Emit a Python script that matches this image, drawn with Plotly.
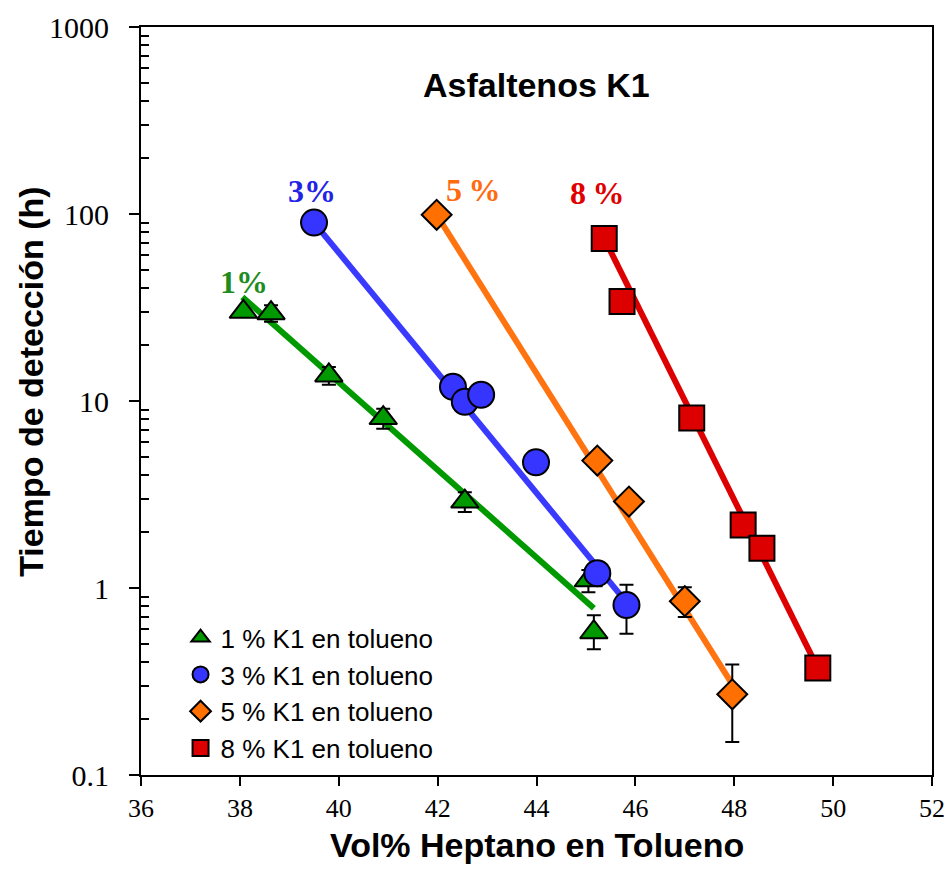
import math
import plotly.graph_objects as go

# Measured detection times (h) vs. heptane volume fraction in toluene
x_1 = [38.07, 38.63, 39.80, 40.90, 42.55, 45.05, 45.16]
y_1 = [30.0, 29.5, 13.7, 8.1, 2.9, 1.1, 0.58]
e1_plus = [0.0, 3.0, 1.5, 1.0, 0.35, 0.15, 0.135]
e1_minus = [0.0, 3.0, 1.5, 1.0, 0.35, 0.15, 0.11]

x_3 = [39.50, 42.31, 42.55, 42.88, 43.99, 45.23, 45.82]
y_3 = [90.0, 11.9, 9.9, 10.8, 4.7, 1.2, 0.81]
e3_plus = [0, 0, 0, 0, 0, 0.05, 0.23]
e3_minus = [0, 0, 0, 0, 0, 0.05, 0.24]

x_5 = [41.98, 45.23, 45.87, 47.00, 47.96]
y_5 = [99.0, 4.8, 2.9, 0.85, 0.27]
e5_plus = [0, 0.45, 0.1, 0.16, 0.12]
e5_minus = [0, 0.45, 0.1, 0.15, 0.12]

x_8 = [45.37, 45.73, 47.14, 48.18, 48.56, 49.69]
y_8 = [74.0, 34.0, 8.1, 2.17, 1.63, 0.373]
e8_plus = [0, 0, 0, 0, 0, 0.03]
e8_minus = [0, 0, 0, 0, 0, 0.03]

# Log-linear fit lines (end points)
fit_1_x, fit_1_y = [38.05, 45.16], [36.0, 0.78]
fit_3_x, fit_3_y = [39.50, 45.85], [90.0, 0.82]
fit_5_x, fit_5_y = [41.98, 47.98], [99.0, 0.30]
fit_8_x, fit_8_y = [45.37, 49.69], [74.0, 0.373]

series_names = ["1 % K1 en tolueno", "3 % K1 en tolueno",
                "5 % K1 en tolueno", "8 % K1 en tolueno"]
series_tags = ["1%", "3%", "5\u2009%", "8\u2009%"]
tag_x = [38.08, 39.46, 42.71, 45.22]
tag_y = [43.3, 132.0, 134.0, 129.0]

x_ticks = [36, 38, 40, 42, 44, 46, 48, 50, 52]
y_ticks = [0.1, 1, 10, 100, 1000]
y_tick_text = ["0.1", "1", "10", "100", "1000"]
y_minor = [m * 10 ** d for d in range(-1, 3) for m in range(2, 10)]

line_colors = ["#009a00", "#3a3aff", "#ff7410", "#dd0000"]
marker_colors = ["#009a00", "#3535ff", "#ff7000", "#dd0000"]
tag_colors = ["#1e8c1e", "#2323e6", "#ff6a10", "#e00000"]
symbols = ["triangle-up", "circle", "diamond", "square"]
sizes = [24, 26, 23, 25]

points = [(x_1, y_1, e1_plus, e1_minus), (x_3, y_3, e3_plus, e3_minus),
          (x_5, y_5, e5_plus, e5_minus), (x_8, y_8, e8_plus, e8_minus)]
fits = [(fit_1_x, fit_1_y), (fit_3_x, fit_3_y),
        (fit_5_x, fit_5_y), (fit_8_x, fit_8_y)]

fig = go.Figure()

for i, (fx, fy) in enumerate(fits):
    fig.add_trace(go.Scatter(
        x=fx, y=fy, mode="lines", showlegend=False, hoverinfo="skip",
        line=dict(color=line_colors[i], width=6)))

for i, (px, py, ep, em) in enumerate(points):
    fig.add_trace(go.Scatter(
        x=px, y=py, mode="markers", name=series_names[i],
        marker=dict(symbol=symbols[i], size=sizes[i], color=marker_colors[i],
                    line=dict(color="black", width=2)),
        error_y=dict(type="data", symmetric=False, array=ep, arrayminus=em,
                     color="black", thickness=2, width=7)))

annotations = []
for i, t in enumerate(series_tags):
    annotations.append(dict(
        x=tag_x[i], y=math.log10(tag_y[i]), xref="x", yref="y",
        text="<b>%s</b>" % t, showarrow=False,
        xanchor="center", yanchor="middle",
        font=dict(family="Liberation Serif", size=32, color=tag_colors[i])))

title_font = dict(family="Liberation Sans", size=34, color="black")
annotations += [
    dict(x=0.5, y=0.922, xref="paper", yref="paper", showarrow=False,
         xanchor="center", yanchor="middle",
         text="<b>Asfaltenos K1</b>", font=title_font),
    dict(x=0.5, y=-0.094, xref="paper", yref="paper", showarrow=False,
         xanchor="center", yanchor="middle",
         text="<b>Vol% Heptano en Tolueno</b>", font=title_font),
    dict(x=-0.14, y=0.526, xref="paper", yref="paper", showarrow=False,
         xanchor="center", yanchor="middle",
         text="<b>Tiempo de detección (h)</b>", textangle=-90,
         font=title_font),
]

fig.update_layout(
    width=946, height=884,
    margin=dict(l=141, r=14, t=27, b=109, autoexpand=False),
    paper_bgcolor="white", plot_bgcolor="white",
    showlegend=True,
    legend=dict(x=0.05, y=0.215, xanchor="left", yanchor="top",
                bgcolor="rgba(0,0,0,0)",
                font=dict(family="Liberation Sans", size=26, color="black"),
                itemwidth=30),
    annotations=annotations,
)

fig.update_xaxes(
    range=[36, 52], tickvals=x_ticks, showgrid=False, zeroline=False,
    showline=True, linecolor="black", linewidth=2, mirror=True,
    ticks="outside", ticklen=9, tickwidth=2, tickcolor="black",
    automargin=False, ticklabeloverflow="allow",
    tickfont=dict(family="Liberation Serif", size=26, color="black"),
)
fig.update_yaxes(
    type="log", range=[-1, 3], tickvals=y_ticks, ticktext=y_tick_text,
    showgrid=False, zeroline=False,
    showline=True, linecolor="black", linewidth=2, mirror=True,
    ticks="outside", ticklen=10, tickwidth=2, tickcolor="black",
    automargin=False, ticklabelstandoff=14, ticklabeloverflow="allow",
    tickfont=dict(family="Liberation Serif", size=30, color="black"),
    minor=dict(tickvals=y_minor, ticks="inside", ticklen=8, tickwidth=2,
               tickcolor="black", showgrid=False),
)

fig.write_html("out.html")
